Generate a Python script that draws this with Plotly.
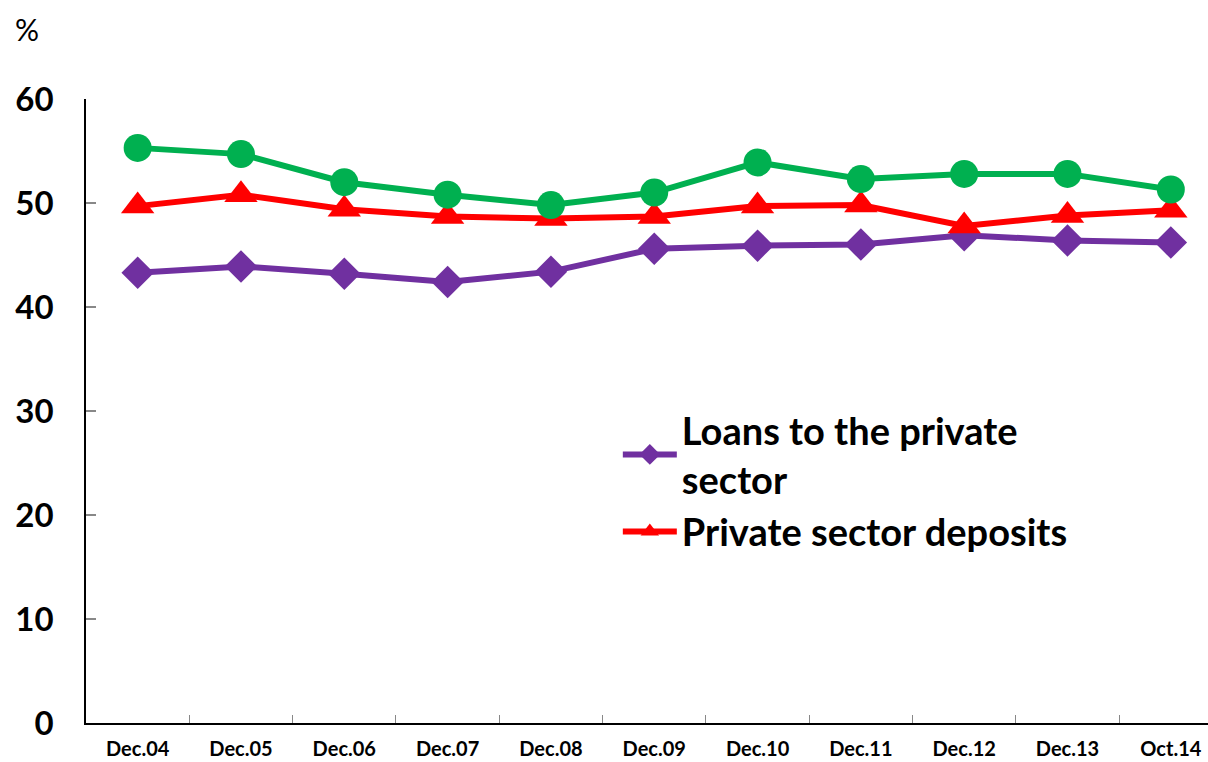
import plotly.graph_objects as go

categories = ["Dec.04", "Dec.05", "Dec.06", "Dec.07", "Dec.08", "Dec.09",
              "Dec.10", "Dec.11", "Dec.12", "Dec.13", "Oct.14"]
loans = [43.3, 43.9, 43.2, 42.4, 43.4, 45.6, 45.9, 46.0, 46.9, 46.4, 46.2]
deposits = [49.7, 50.8, 49.4, 48.7, 48.5, 48.7, 49.7, 49.8, 47.8, 48.8, 49.3]
third_series = [55.3, 54.7, 52.0, 50.8, 49.8, 51.0, 53.9, 52.3, 52.8, 52.8, 51.3]
y_ticks = [0, 10, 20, 30, 40, 50, 60]

FONT = "Lato"
xs = list(range(len(categories)))

fig = go.Figure()
fig.add_trace(go.Scatter(
    x=xs, y=loans, name="Loans to the private<br>sector", mode="lines+markers",
    line=dict(color="#7030A0", width=6),
    marker=dict(symbol="diamond", size=25, color="#7030A0")))
fig.add_trace(go.Scatter(
    x=xs, y=deposits, name="Private sector deposits", mode="lines+markers",
    line=dict(color="#FF0000", width=6),
    marker=dict(symbol="triangle-up", size=29, color="#FF0000")))
fig.add_trace(go.Scatter(
    x=xs, y=third_series, name="", mode="lines+markers", showlegend=False,
    line=dict(color="#00B050", width=6),
    marker=dict(symbol="circle", size=28, color="#00B050")))

fig.update_layout(
    width=1208, height=762,
    margin=dict(l=86, r=0, t=99, b=39, autoexpand=False),
    paper_bgcolor="white", plot_bgcolor="white",
    font=dict(family=FONT, color="black"),
    legend=dict(x=0.474, y=0.52, xanchor="left", yanchor="top",
                font=dict(family=FONT, size=38, color="black", weight="bold"),
                bgcolor="rgba(0,0,0,0)", tracegroupgap=6, itemwidth=54),
    annotations=[dict(text="%", x=0, y=1, xref="paper", yref="paper",
                      xshift=-73, yshift=70, showarrow=False,
                      xanchor="left", yanchor="middle",
                      font=dict(family=FONT, size=30, color="black"))],
)
fig.update_xaxes(
    range=[-0.5, 10.36], tickmode="array", tickvals=xs, ticktext=categories,
    automargin=False,
    showgrid=False, zeroline=False, showline=True, linecolor="black", linewidth=2,
    ticks="", tickfont=dict(family=FONT, size=20, color="black", weight="bold"),
    ticklabelstandoff=7,
    minor=dict(tickmode="array", tickvals=[i + 0.5 for i in xs[:-1]],
               ticks="inside", ticklen=8, tickcolor="#888888", tickwidth=1),
)
fig.update_yaxes(
    range=[0, 60], tickmode="array", tickvals=y_ticks, automargin=False,
    showgrid=False, zeroline=False, showline=True, linecolor="black", linewidth=1.5,
    ticks="inside", ticklen=10, tickcolor="#888888", tickwidth=1.5,
    tickfont=dict(family=FONT, size=33, color="black", weight="bold"),
    ticklabelstandoff=24,
)

fig.write_html("out.html", config={"displayModeBar": False},
               post_script="document.body.style.margin='0';document.body.style.overflow='hidden';")
